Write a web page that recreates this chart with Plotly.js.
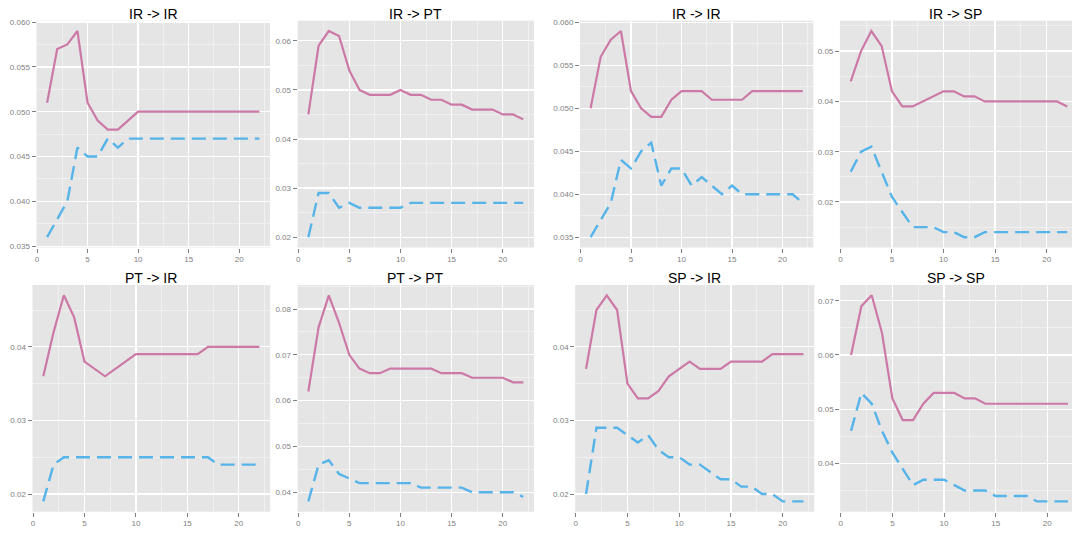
<!DOCTYPE html>
<html>
<head>
<meta charset="utf-8">
<script src="https://cdn.plot.ly/plotly-3.0.1.min.js"></script>
<style>html,body{margin:0;padding:0;background:#fff;}#chart{width:1072px;height:533px;}</style>
</head>
<body>
<div id="chart"></div>
<script>
// ---------- data ----------
const horizon = [1,2,3,4,5,6,7,8,9,10,11,12,13,14,15,16,17,18,19,20,21,22];
const titles = ["IR -> IR","IR -> PT","IR -> IR","IR -> SP","PT -> IR","PT -> PT","SP -> IR","SP -> SP"];

const irIrA_solid  = [0.051,0.057,0.0575,0.059,0.051,0.049,0.048,0.048,0.049,0.050,0.050,0.050,0.050,0.050,0.050,0.050,0.050,0.050,0.050,0.050,0.050,0.050];
const irIrA_dashed = [0.036,0.038,0.040,0.046,0.045,0.045,0.047,0.046,0.047,0.047,0.047,0.047,0.047,0.047,0.047,0.047,0.047,0.047,0.047,0.047,0.047,0.047];

const irPt_solid  = [0.045,0.059,0.062,0.061,0.054,0.050,0.049,0.049,0.049,0.050,0.049,0.049,0.048,0.048,0.047,0.047,0.046,0.046,0.046,0.045,0.045,0.044];
const irPt_dashed = [0.020,0.029,0.029,0.026,0.027,0.026,0.026,0.026,0.026,0.026,0.027,0.027,0.027,0.027,0.027,0.027,0.027,0.027,0.027,0.027,0.027,0.027];

const irIrB_solid  = [0.050,0.056,0.058,0.059,0.052,0.050,0.049,0.049,0.051,0.052,0.052,0.052,0.051,0.051,0.051,0.051,0.052,0.052,0.052,0.052,0.052,0.052];
const irIrB_dashed = [0.035,0.037,0.039,0.044,0.043,0.045,0.046,0.041,0.043,0.043,0.041,0.042,0.041,0.040,0.041,0.040,0.040,0.040,0.040,0.040,0.040,0.039];

const irSp_solid  = [0.044,0.050,0.054,0.051,0.042,0.039,0.039,0.040,0.041,0.042,0.042,0.041,0.041,0.040,0.040,0.040,0.040,0.040,0.040,0.040,0.040,0.039];
const irSp_dashed = [0.026,0.030,0.031,0.026,0.021,0.018,0.015,0.015,0.015,0.014,0.014,0.013,0.013,0.014,0.014,0.014,0.014,0.014,0.014,0.014,0.014,0.014];

const ptIr_solid  = [0.036,0.042,0.047,0.044,0.038,0.037,0.036,0.037,0.038,0.039,0.039,0.039,0.039,0.039,0.039,0.039,0.040,0.040,0.040,0.040,0.040,0.040];
const ptIr_dashed = [0.019,0.024,0.025,0.025,0.025,0.025,0.025,0.025,0.025,0.025,0.025,0.025,0.025,0.025,0.025,0.025,0.025,0.024,0.024,0.024,0.024,0.024];

const ptPt_solid  = [0.062,0.076,0.083,0.077,0.070,0.067,0.066,0.066,0.067,0.067,0.067,0.067,0.067,0.066,0.066,0.066,0.065,0.065,0.065,0.065,0.064,0.064];
const ptPt_dashed = [0.038,0.046,0.047,0.044,0.043,0.042,0.042,0.042,0.042,0.042,0.042,0.041,0.041,0.041,0.041,0.041,0.040,0.040,0.040,0.040,0.040,0.039];

const spIr_solid  = [0.037,0.045,0.047,0.045,0.035,0.033,0.033,0.034,0.036,0.037,0.038,0.037,0.037,0.037,0.038,0.038,0.038,0.038,0.039,0.039,0.039,0.039];
const spIr_dashed = [0.020,0.029,0.029,0.029,0.028,0.027,0.028,0.026,0.025,0.025,0.024,0.024,0.023,0.022,0.022,0.021,0.021,0.020,0.020,0.019,0.019,0.019];

const spSp_solid  = [0.060,0.069,0.071,0.064,0.052,0.048,0.048,0.051,0.053,0.053,0.053,0.052,0.052,0.051,0.051,0.051,0.051,0.051,0.051,0.051,0.051,0.051];
const spSp_dashed = [0.046,0.053,0.051,0.046,0.042,0.039,0.036,0.037,0.037,0.037,0.036,0.035,0.035,0.035,0.034,0.034,0.034,0.034,0.033,0.033,0.033,0.033];

const solidSeries  = [irIrA_solid, irPt_solid, irIrB_solid, irSp_solid, ptIr_solid, ptPt_solid, spIr_solid, spSp_solid];
const dashedSeries = [irIrA_dashed, irPt_dashed, irIrB_dashed, irSp_dashed, ptIr_dashed, ptPt_dashed, spIr_dashed, spSp_dashed];

// ---------- layout geometry (pixels) ----------
const W = 1072, H = 533;
const colPx = [[36.5,270],[297.6,534],[580,813.3],[839.9,1072],
               [32.5,270.2],[297.6,534],[575.2,814.3],[840.2,1072]];
const xEnd = [23.05,23.05,23.05,22.46,23.05,23.05,23.05,22.39];
const rowPx = [[20.7,247.5],[285,511.7]];
const yStep = [0.005,0.01,0.005,0.01,0.01,0.01,0.01,0.01];
const yFmt  = ['.3f','.2f','.3f','.2f','.2f','.2f','.2f','.2f'];

const PINK = '#CC79A7', BLUE = '#56B4E9';
const traces = [];
const layout = {
  width: W, height: H,
  margin: {l:0, r:0, t:0, b:0},
  paper_bgcolor: '#ffffff',
  plot_bgcolor: '#E5E5E5',
  showlegend: false,
  font: {family: 'Liberation Sans, Arial, sans-serif', size: 8, color: '#7F7F7F'},
  annotations: []
};

for (let i = 0; i < 8; i++) {
  const n = i + 1;
  const xa = n === 1 ? 'x' : 'x' + n;
  const ya = n === 1 ? 'y' : 'y' + n;
  traces.push({x: horizon, y: solidSeries[i], xaxis: xa, yaxis: ya, type: 'scatter', mode: 'lines',
               line: {color: PINK, width: 2.2}, hoverinfo: 'skip'});
  traces.push({x: horizon, y: dashedSeries[i], xaxis: xa, yaxis: ya, type: 'scatter', mode: 'lines',
               line: {color: BLUE, width: 2.4, dash: '14px,7px'}, hoverinfo: 'skip'});

  const all = solidSeries[i].concat(dashedSeries[i]);
  const lo = Math.min(...all), hi = Math.max(...all);
  const pad = (hi - lo) * 0.05;
  const row = i < 4 ? 0 : 1;
  const [x0, x1] = colPx[i];
  const [top, bot] = rowPx[row];

  layout['xaxis' + (n === 1 ? '' : n)] = {
    domain: [x0 / W, x1 / W], anchor: ya,
    range: [-0.05, xEnd[i]],
    tickmode: 'linear', tick0: 0, dtick: 5,
    ticks: 'outside', ticklen: 4, tickwidth: 1, tickcolor: '#7F7F7F',
    tickfont: {size: 8, color: '#7F7F7F'},
    showgrid: true, gridcolor: '#FFFFFF', gridwidth: 1.3,
    minor: {tick0: 0, dtick: 2.5, showgrid: true, gridcolor: '#F2F2F2', gridwidth: 0.8, ticks: ''},
    zeroline: false, showline: false, fixedrange: true
  };
  layout['yaxis' + (n === 1 ? '' : n)] = {
    domain: [(H - bot) / H, (H - top) / H], anchor: xa,
    range: [lo - pad, hi + pad],
    tickmode: 'linear', tick0: 0, dtick: yStep[i], tickformat: yFmt[i],
    ticks: 'outside', ticklen: 4, tickwidth: 1, tickcolor: '#7F7F7F',
    tickfont: {size: 8, color: '#7F7F7F'},
    showgrid: true, gridcolor: '#FFFFFF', gridwidth: 1.3,
    minor: {tick0: 0, dtick: yStep[i] / 2, showgrid: true, gridcolor: '#F2F2F2', gridwidth: 0.8, ticks: ''},
    zeroline: false, showline: false, fixedrange: true
  };
  layout.annotations.push({
    text: titles[i], xref: 'paper', yref: 'paper',
    x: (x0 + x1) / 2 / W, y: (H - (row === 0 ? 13.5 : 277.5)) / H,
    xanchor: 'center', yanchor: 'middle', showarrow: false,
    font: {family: 'Liberation Sans, Arial, sans-serif', size: 14, color: '#000000'}
  });
}

Plotly.newPlot('chart', traces, layout, {displayModeBar: false, staticPlot: true});
</script>
</body>
</html>
